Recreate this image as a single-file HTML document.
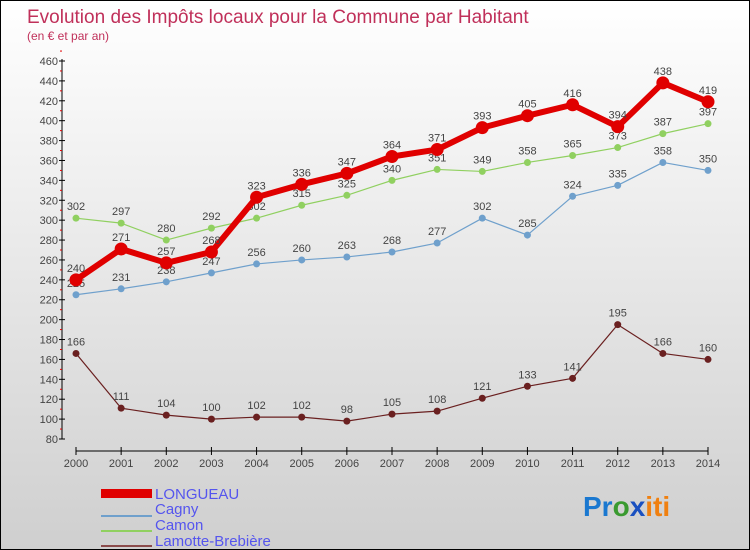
<!DOCTYPE html>
<html><head><meta charset="utf-8"><style>
body{margin:0;}
#c{width:748px;height:548px;border:1px solid #000;background:linear-gradient(#ffffff,#cfcfcf);position:relative;font-family:"Liberation Sans",sans-serif;overflow:hidden}
svg text{font-family:"Liberation Sans",sans-serif}
</style></head><body>
<div id="c">
<svg id="s" width="748" height="548">
<text x="26" y="22" font-size="19" fill="#c0305a">Evolution des Impôts locaux pour la Commune par Habitant</text>
<text x="26" y="39" font-size="12" fill="#c0305a">(en € et par an)</text>
<g id="axes"></g><g id="series"></g>
<g>
<rect x="100" y="488" width="51" height="9" fill="#e00000"/>
<text x="154" y="498" font-size="15" fill="#5555ee">LONGUEAU</text>
<line x1="100" y1="515" x2="151" y2="515" stroke="#6fa0cc" stroke-width="2"/>
<text x="154" y="513" font-size="15" fill="#5555ee">Cagny</text>
<line x1="100" y1="530" x2="151" y2="530" stroke="#90d060" stroke-width="2"/>
<text x="154" y="529" font-size="15" fill="#5555ee">Camon</text>
<line x1="100" y1="545" x2="151" y2="545" stroke="#8a4a4a" stroke-width="2"/>
<text x="154" y="545" font-size="15" fill="#5555ee">Lamotte-Brebière</text>
</g>
<text x="582" y="515" font-size="28" font-weight="bold"><tspan fill="#1a78d0">Pr</tspan><tspan fill="#3a9a30">o</tspan><tspan fill="#1a50c0">x</tspan><tspan fill="#f08010">iti</tspan></text>
</svg></div>
<script>
const years=[2000,2001,2002,2003,2004,2005,2006,2007,2008,2009,2010,2011,2012,2013,2014];
const yTicks=[80,100,120,140,160,180,200,220,240,260,280,300,320,340,360,380,400,420,440,460];
const longueau=[240,271,257,268,323,336,347,364,371,393,405,416,394,438,419];
const cagny=[225,231,238,247,256,260,263,268,277,302,285,324,335,358,350];
const camon=[302,297,280,292,302,315,325,340,351,349,358,365,373,387,397];
const lamotte=[166,111,104,100,102,102,98,105,108,121,133,141,195,166,160];
const NS="http://www.w3.org/2000/svg";
const X=i=>75+i*(632/14);
const Y=v=>438-(v-80)*(378/380);
function mk(t,a,p){const e=document.createElementNS(NS,t);for(const k in a)e.setAttribute(k,a[k]);p.appendChild(e);return e;}
const ax=document.getElementById('axes');
let l=mk('line',{x1:61,y1:58,x2:61,y2:438,stroke:'#000'},ax);


l=mk('line',{x1:75,y1:450,x2:707,y2:450,stroke:'#000'},ax);


yTicks.forEach(v=>{
 mk('line',{x1:58,y1:Y(v),x2:64,y2:Y(v),stroke:'#000'},ax);
 mk('line',{x1:59,y1:Y(v+10),x2:61,y2:Y(v+10),stroke:'#e00000'},ax);
 const t=mk('text',{x:57,y:Y(v)+4,'font-size':11,'text-anchor':'end',fill:'#444'},ax);t.textContent=v;
 
 
});
years.forEach((y,i)=>{
 mk('line',{x1:X(i),y1:446,x2:X(i),y2:454,stroke:'#000'},ax);
 const t=mk('text',{x:X(i),y:466,'font-size':11,'text-anchor':'middle',fill:'#444'},ax);t.textContent=y;
 
 
});
const sg=document.getElementById('series');
function draw(vals,color,w,r,name){
 const g=mk('g',{},sg);
 
 
 const p=mk('polyline',{points:vals.map((v,i)=>X(i)+','+Y(v)).join(' '),fill:'none',stroke:color,'stroke-width':w,'stroke-linejoin':'round'},g);
 
 
 vals.forEach((v,i)=>{
  const c=mk('circle',{cx:X(i),cy:Y(v),r:r,fill:color},g);
  
  
  const t=mk('text',{x:X(i),y:Y(v)-8,'font-size':11,'text-anchor':'middle',fill:'#444'},g);t.textContent=v;
  
  
 });
}
draw(lamotte,'#6a2020',1.2,3.5,'lamotte');
draw(camon,'#90d060',1.2,3.5,'camon');
draw(cagny,'#6fa0cc',1.2,3.5,'cagny');
draw(longueau,'#e00000',6,6.5,'longueau');
</script>
</body></html>
